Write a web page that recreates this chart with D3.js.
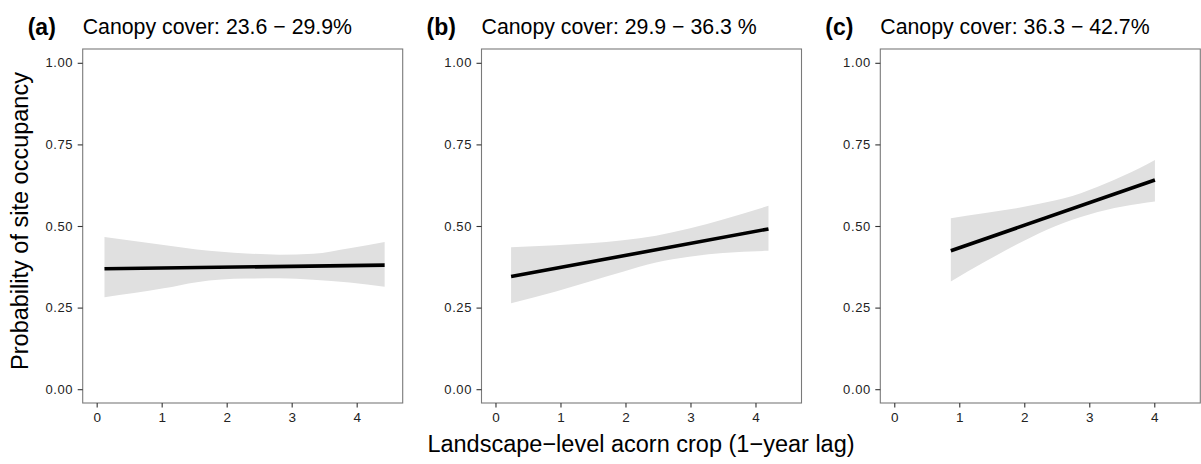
<!DOCTYPE html>
<html>
<head>
<meta charset="utf-8">
<script src="https://cdn.jsdelivr.net/npm/d3@7"></script>
<style>
  html, body { margin: 0; padding: 0; background: #fff; }
  svg text { font-family: "Liberation Sans", Arial, Helvetica, sans-serif; }
</style>
</head>
<body>
<svg id="chart" width="1201" height="464"></svg>
<script>
// ---- data ----
const panelLabels = ["(a)", "(b)", "(c)"];
const panelTitles = ["Canopy cover: 23.6 \u2212 29.9%", "Canopy cover: 29.9 \u2212 36.3 %", "Canopy cover: 36.3 \u2212 42.7%"];
const xTicks = [0, 1, 2, 3, 4];
const yTicks = [0, 0.25, 0.5, 0.75, 1];
const yTickLabels = ["0.00", "0.25", "0.50", "0.75", "1.00"];
const xTitle = "Landscape\u2212level acorn crop (1\u2212year lag)";
const yTitle = "Probability of site occupancy";

// fitted lines
const fitA_x = [0.12, 4.43];
const fitA_y = [0.369, 0.380];
const fitB_x = [0.24, 4.20];
const fitB_y = [0.345, 0.491];
const fitC_x = [0.87, 4.01];
const fitC_y = [0.424, 0.641];

// confidence bands
const bandA_x = [0.12, 1.03, 1.54, 2.30, 2.81, 3.33, 3.89, 4.43];
const bandA_lo = [0.282, 0.309, 0.328, 0.339, 0.340, 0.335, 0.327, 0.314];
const bandA_hi = [0.466, 0.442, 0.428, 0.416, 0.412, 0.415, 0.432, 0.451];
const bandB_x = [0.24, 0.93, 1.45, 1.96, 2.47, 2.98, 3.50, 4.20];
const bandB_lo = [0.263, 0.299, 0.330, 0.360, 0.388, 0.406, 0.417, 0.424];
const bandB_hi = [0.435, 0.441, 0.447, 0.456, 0.470, 0.492, 0.520, 0.562];
const bandC_x = [0.87, 1.40, 1.92, 2.23, 2.74, 3.26, 3.77, 4.01];
const bandC_lo = [0.330, 0.391, 0.447, 0.478, 0.519, 0.549, 0.568, 0.575];
const bandC_hi = [0.524, 0.540, 0.556, 0.568, 0.592, 0.631, 0.677, 0.702];

const fits = [[fitA_x, fitA_y], [fitB_x, fitB_y], [fitC_x, fitC_y]];
const bands = [[bandA_x, bandA_lo, bandA_hi], [bandB_x, bandB_lo, bandB_hi], [bandC_x, bandC_lo, bandC_hi]];

// ---- layout ----
const svg = d3.select("#chart");
const panelW = 320;
const panelLefts = [82.7, 481.5, 880.3];
const plotTop = 49, plotBottom = 403;

const x = d3.scaleLinear().domain([-0.215, 4.708]).range([0, panelW]);
const y = d3.scaleLinear().domain([-0.0423, 1.0423]).range([plotBottom, plotTop]);

const frameColor = "#7a7a7a";
const tickTextColor = "#222";

panelLefts.forEach((left, i) => {
  const g = svg.append("g").attr("transform", `translate(${left},0)`);

  // band
  const [bx, blo, bhi] = bands[i];
  const bandData = bx.map((v, k) => ({x: v, lo: blo[k], hi: bhi[k]}));
  g.append("path")
    .datum(bandData)
    .attr("fill", "#e0e0e0")
    .attr("d", d3.area().curve(d3.curveMonotoneX)
      .x(d => x(d.x)).y0(d => y(d.lo)).y1(d => y(d.hi)));

  // fit line
  const [fx, fy] = fits[i];
  const fitData = fx.map((v, k) => ({x: v, y: fy[k]}));
  g.append("path")
    .datum(fitData)
    .attr("fill", "none")
    .attr("stroke", "#000")
    .attr("stroke-width", 3.6)
    .attr("d", d3.line().x(d => x(d.x)).y(d => y(d.y)));

  // frame
  g.append("rect")
    .attr("x", 0).attr("y", plotTop)
    .attr("width", panelW).attr("height", plotBottom - plotTop)
    .attr("fill", "none").attr("stroke", frameColor).attr("stroke-width", 1.1);

  // y axis
  const yAxis = d3.axisLeft(y).tickValues(yTicks)
    .tickFormat((d, k) => yTickLabels[k]).tickSize(5).tickPadding(4.5);
  const ya = g.append("g").call(yAxis);
  ya.select(".domain").remove();
  ya.selectAll(".tick line").attr("stroke", "#333").attr("stroke-width", 1.1);
  ya.selectAll(".tick text").attr("fill", tickTextColor)
    .style("font-size", "13px").style("letter-spacing", "0.6px")
    .style("font-family", "Liberation Sans, Arial, sans-serif");

  // x axis
  const xAxis = d3.axisBottom(x).tickValues(xTicks).tickFormat(d3.format("d"))
    .tickSize(4.5).tickPadding(4.5);
  const xa = g.append("g").attr("transform", `translate(0,${plotBottom})`).call(xAxis);
  xa.select(".domain").remove();
  xa.selectAll(".tick line").attr("stroke", "#333").attr("stroke-width", 1.1);
  xa.selectAll(".tick text").attr("fill", tickTextColor)
    .style("font-size", "13.5px").style("font-family", "Liberation Sans, Arial, sans-serif");

  // titles
  g.append("text")
    .attr("x", -55).attr("y", 35)
    .attr("font-size", 23).attr("font-weight", "bold").attr("fill", "#000")
    .text(panelLabels[i]);
  g.append("text")
    .attr("x", 0).attr("y", 34)
    .attr("font-size", 21.3).attr("fill", "#000")
    .text(panelTitles[i]);
});

// axis titles
svg.append("text")
  .attr("x", 641).attr("y", 452)
  .attr("text-anchor", "middle")
  .attr("font-size", 23.5).attr("fill", "#000")
  .text(xTitle);

svg.append("text")
  .attr("transform", `translate(28,${(plotTop + plotBottom) / 2 - 5}) rotate(-90)`)
  .attr("text-anchor", "middle")
  .attr("font-size", 23.5).attr("fill", "#000")
  .text(yTitle);
</script>
</body>
</html>
